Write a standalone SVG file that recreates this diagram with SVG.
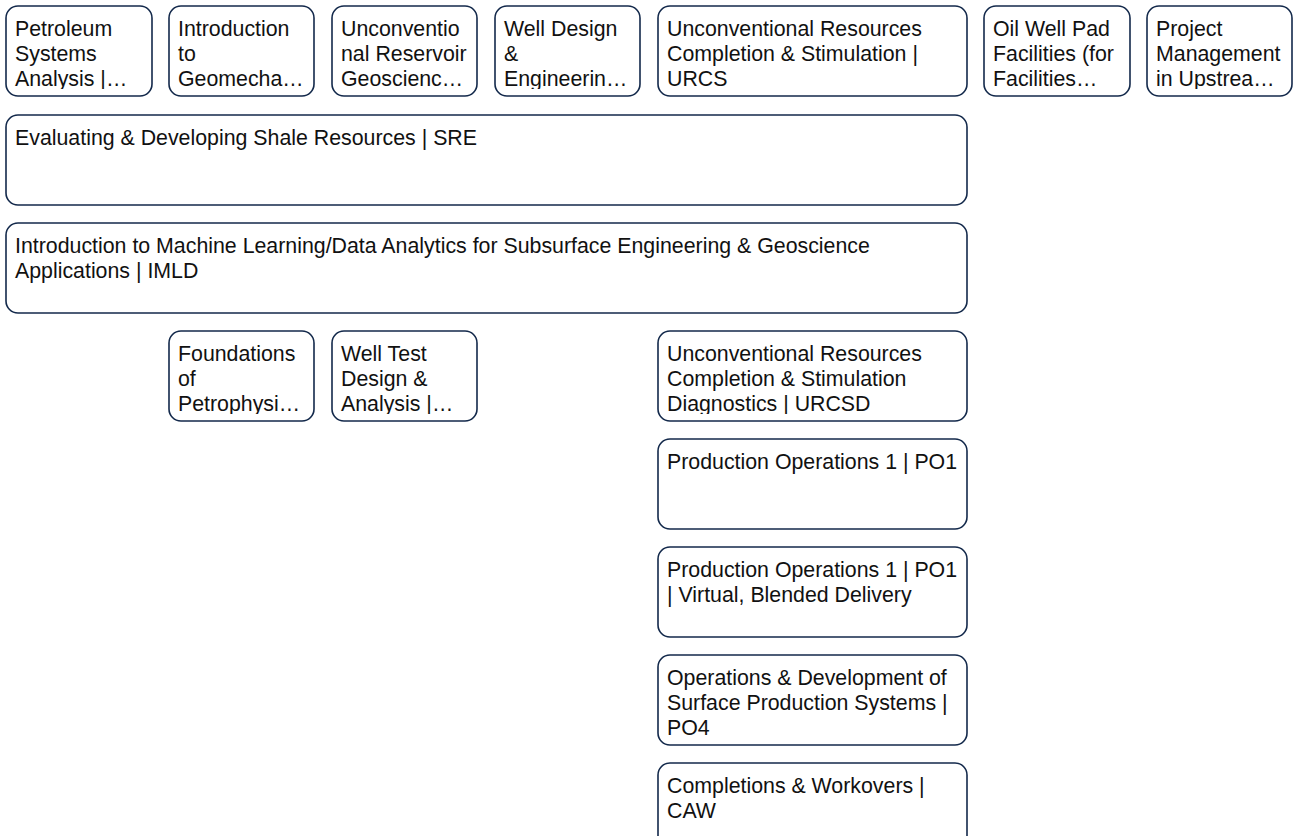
<svg xmlns="http://www.w3.org/2000/svg" width="1294" height="836" viewBox="0 0 1294 836">
<style>
.box{fill:#ffffff;stroke:#13294b;stroke-width:1.6}
.t{font-family:"Liberation Sans",Arial,sans-serif;font-size:21.33px;fill:#111111}
</style>
<defs>
<clipPath id="c1"><rect x="6" y="6" width="146" height="83"/></clipPath>
<clipPath id="c2"><rect x="169" y="6" width="146" height="83"/></clipPath>
<clipPath id="c3"><rect x="332" y="6" width="146" height="83"/></clipPath>
<clipPath id="c4"><rect x="495" y="6" width="146" height="83"/></clipPath>
<clipPath id="c6"><rect x="984" y="6" width="146" height="83"/></clipPath>
<clipPath id="c7"><rect x="1147" y="6" width="146" height="83"/></clipPath>
<clipPath id="c9"><rect x="169" y="331" width="146" height="83"/></clipPath>
<clipPath id="c10"><rect x="332" y="331" width="146" height="83"/></clipPath>
<clipPath id="c12"><rect x="658" y="331" width="309" height="83"/></clipPath>
</defs>
<rect width="1294" height="836" fill="#ffffff"/>
<g id="connectors"></g>
<g id="n1"><rect class="box" x="6" y="6" width="146" height="90" rx="12"/><text class="t" clip-path="url(#c1)"><tspan x="15" y="36">Petroleum</tspan><tspan x="15" y="61">Systems</tspan><tspan x="15" y="86">Analysis |…</tspan></text></g>
<g id="n2"><rect class="box" x="169" y="6" width="145" height="90" rx="12"/><text class="t" clip-path="url(#c2)"><tspan x="178" y="36">Introduction</tspan><tspan x="178" y="61">to</tspan><tspan x="178" y="86">Geomecha…</tspan></text></g>
<g id="n3"><rect class="box" x="332" y="6" width="145" height="90" rx="12"/><text class="t" clip-path="url(#c3)"><tspan x="341" y="36">Unconventio</tspan><tspan x="341" y="61">nal Reservoir</tspan><tspan x="341" y="86">Geoscienc…</tspan></text></g>
<g id="n4"><rect class="box" x="495" y="6" width="145" height="90" rx="12"/><text class="t" clip-path="url(#c4)"><tspan x="504" y="36">Well Design</tspan><tspan x="504" y="61">&amp;</tspan><tspan x="504" y="86">Engineerin…</tspan></text></g>
<g id="n5"><rect class="box" x="658" y="6" width="309" height="90" rx="12"/><text class="t"><tspan x="667" y="36">Unconventional Resources</tspan><tspan x="667" y="61">Completion &amp; Stimulation |</tspan><tspan x="667" y="86">URCS</tspan></text></g>
<g id="n6"><rect class="box" x="984" y="6" width="146" height="90" rx="12"/><text class="t" clip-path="url(#c6)"><tspan x="993" y="36">Oil Well Pad</tspan><tspan x="993" y="61">Facilities (for</tspan><tspan x="993" y="86">Facilities…</tspan></text></g>
<g id="n7"><rect class="box" x="1147" y="6" width="145" height="90" rx="12"/><text class="t" clip-path="url(#c7)"><tspan x="1156" y="36">Project</tspan><tspan x="1156" y="61">Management</tspan><tspan x="1156" y="86">in Upstrea…</tspan></text></g>
<g id="n8"><rect class="box" x="6" y="115" width="961" height="90" rx="12"/><text class="t"><tspan x="15" y="145">Evaluating &amp; Developing Shale Resources | SRE</tspan></text></g>
<g id="n9"><rect class="box" x="6" y="223" width="961" height="90" rx="12"/><text class="t"><tspan x="15" y="253">Introduction to Machine Learning/Data Analytics for Subsurface Engineering &amp; Geoscience</tspan><tspan x="15" y="278">Applications | IMLD</tspan></text></g>
<g id="n10"><rect class="box" x="169" y="331" width="145" height="90" rx="12"/><text class="t" clip-path="url(#c9)"><tspan x="178" y="361">Foundations</tspan><tspan x="178" y="386">of</tspan><tspan x="178" y="411">Petrophysi…</tspan></text></g>
<g id="n11"><rect class="box" x="332" y="331" width="145" height="90" rx="12"/><text class="t" clip-path="url(#c10)"><tspan x="341" y="361">Well Test</tspan><tspan x="341" y="386">Design &amp;</tspan><tspan x="341" y="411">Analysis |…</tspan></text></g>
<g id="n12"><rect class="box" x="658" y="331" width="309" height="90" rx="12"/><text class="t" clip-path="url(#c12)"><tspan x="667" y="361">Unconventional Resources</tspan><tspan x="667" y="386">Completion &amp; Stimulation</tspan><tspan x="667" y="411">Diagnostics | URCSD</tspan></text></g>
<g id="n13"><rect class="box" x="658" y="439" width="309" height="90" rx="12"/><text class="t"><tspan x="667" y="469">Production Operations 1 | PO1</tspan></text></g>
<g id="n14"><rect class="box" x="658" y="547" width="309" height="90" rx="12"/><text class="t"><tspan x="667" y="577">Production Operations 1 | PO1</tspan><tspan x="667" y="602">| Virtual, Blended Delivery</tspan></text></g>
<g id="n15"><rect class="box" x="658" y="655" width="309" height="90" rx="12"/><text class="t"><tspan x="667" y="685">Operations &amp; Development of</tspan><tspan x="667" y="710">Surface Production Systems |</tspan><tspan x="667" y="735">PO4</tspan></text></g>
<g id="n16"><rect class="box" x="658" y="763" width="309" height="90" rx="12"/><text class="t"><tspan x="667" y="793">Completions &amp; Workovers |</tspan><tspan x="667" y="818">CAW</tspan></text></g>
</svg>
